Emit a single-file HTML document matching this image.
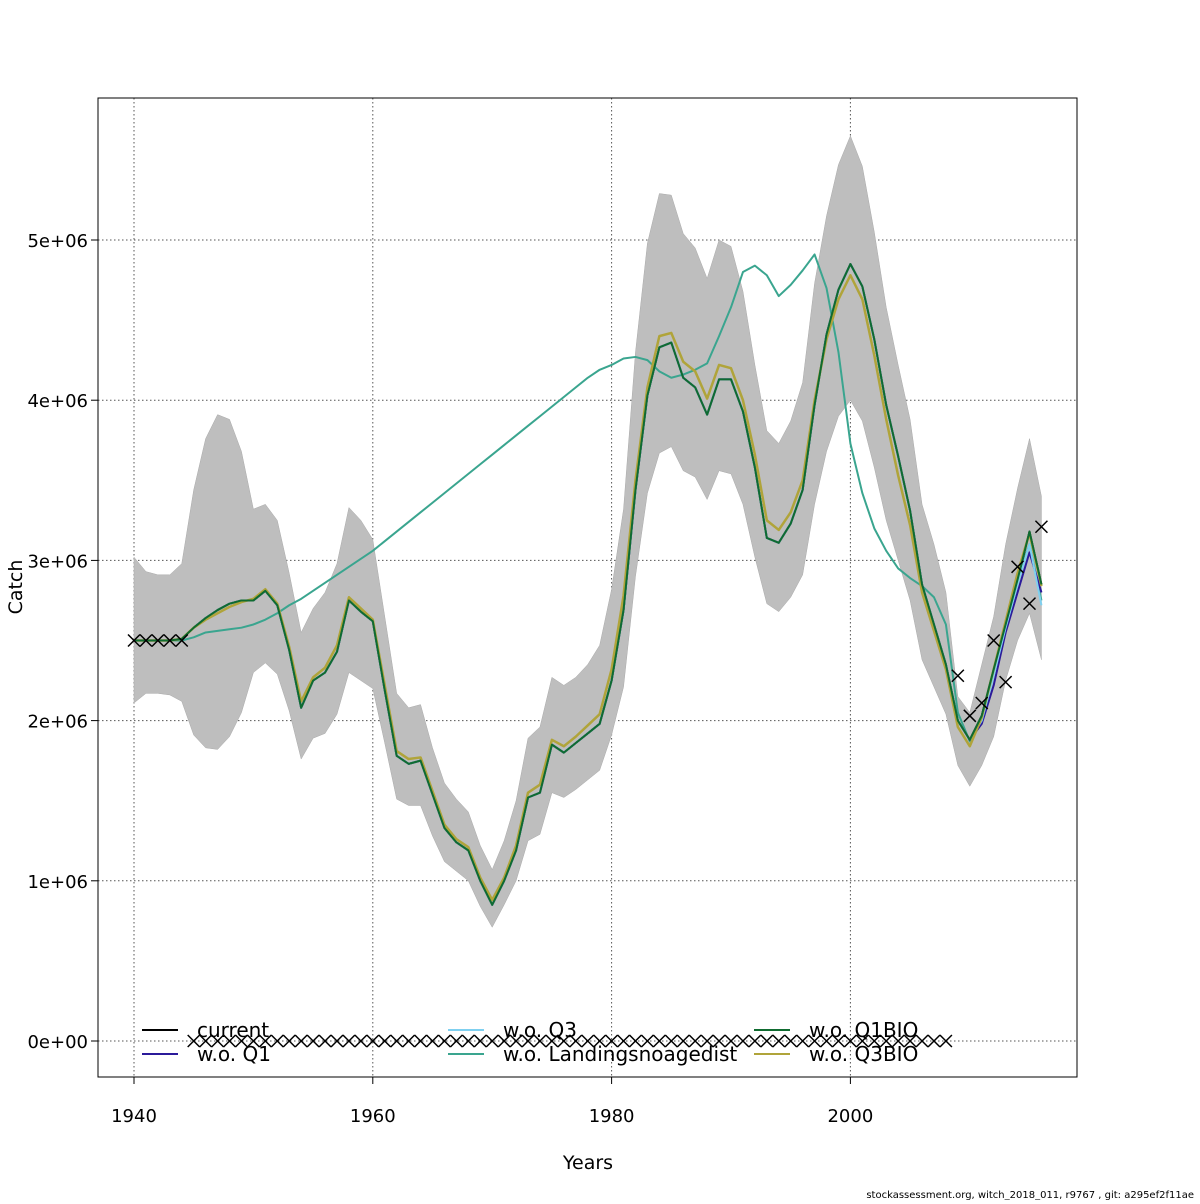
<!DOCTYPE html>
<html><head><meta charset="utf-8"><style>
body{margin:0;background:#fff;font-family:"DejaVu Sans","Liberation Sans",sans-serif}
svg text{font-family:"DejaVu Sans","Liberation Sans",sans-serif}
</style></head><body>
<svg id="c" width="1200" height="1200" xmlns="http://www.w3.org/2000/svg"></svg>
<script>
const years=[];for(let y=1940;y<=2016;y++)years.push(y);
const current=[2.5,2.5,2.5,2.5,2.51,2.58,2.64,2.69,2.73,2.75,2.75,2.81,2.72,2.44,2.08,2.25,2.30,2.43,2.75,2.68,2.62,2.19,1.78,1.73,1.75,1.54,1.33,1.24,1.19,1.0,0.85,1.0,1.19,1.52,1.55,1.85,1.80,1.86,1.92,1.98,2.25,2.69,3.44,4.03,4.33,4.36,4.14,4.08,3.91,4.13,4.13,3.93,3.58,3.14,3.11,3.23,3.44,3.97,4.41,4.69,4.85,4.71,4.38,3.97,3.65,3.31,2.85,2.6,2.35,2.0,1.88,2.03,2.32,2.6,2.88,3.18,2.85];
const q3bio=[2.5,2.5,2.5,2.5,2.51,2.58,2.63,2.67,2.71,2.74,2.76,2.82,2.73,2.46,2.12,2.27,2.33,2.47,2.77,2.70,2.63,2.22,1.81,1.76,1.77,1.56,1.35,1.26,1.21,1.02,0.88,1.02,1.22,1.55,1.60,1.88,1.84,1.90,1.97,2.04,2.32,2.78,3.50,4.08,4.40,4.42,4.24,4.18,4.01,4.22,4.20,4.00,3.66,3.25,3.19,3.30,3.50,4.00,4.38,4.63,4.78,4.63,4.28,3.88,3.53,3.22,2.80,2.56,2.32,1.96,1.84,2.02,2.32,2.62,2.92,3.17,2.84];
const q1=current.slice(0,71).concat([1.98,2.22,2.55,2.80,3.05,2.80]);
const q3=current.slice(0,71).concat([2.0,2.28,2.58,2.85,3.10,2.72]);
const noage=[2.5,2.5,2.5,2.5,2.5,2.52,2.55,2.56,2.57,2.58,2.60,2.63,2.67,2.72,2.76,2.81,2.86,2.91,2.96,3.01,3.06,3.12,3.18,3.24,3.30,3.36,3.42,3.48,3.54,3.60,3.66,3.72,3.78,3.84,3.90,3.96,4.02,4.08,4.14,4.19,4.22,4.26,4.27,4.25,4.18,4.14,4.16,4.19,4.23,4.40,4.58,4.80,4.84,4.78,4.65,4.72,4.81,4.91,4.70,4.30,3.73,3.42,3.20,3.06,2.95,2.89,2.84,2.77,2.60,2.05,1.87,2.02,2.30,2.6,2.88,3.1,2.75];
const upper=[3.02,2.93,2.91,2.91,2.98,3.44,3.76,3.91,3.88,3.68,3.32,3.35,3.25,2.92,2.55,2.70,2.80,2.98,3.33,3.25,3.13,2.65,2.17,2.08,2.10,1.83,1.61,1.51,1.43,1.22,1.07,1.25,1.50,1.89,1.96,2.27,2.22,2.27,2.35,2.47,2.82,3.32,4.30,4.98,5.29,5.28,5.04,4.95,4.76,5.00,4.96,4.68,4.22,3.81,3.73,3.87,4.11,4.73,5.15,5.47,5.65,5.46,5.05,4.58,4.22,3.88,3.35,3.10,2.80,2.15,2.05,2.35,2.65,3.10,3.45,3.76,3.40];
const lower=[2.11,2.17,2.17,2.16,2.12,1.91,1.83,1.82,1.90,2.05,2.30,2.36,2.29,2.06,1.76,1.89,1.92,2.04,2.30,2.25,2.20,1.86,1.51,1.47,1.47,1.28,1.12,1.06,1.00,0.84,0.71,0.85,1.00,1.25,1.29,1.55,1.52,1.57,1.63,1.69,1.91,2.21,2.90,3.42,3.67,3.71,3.56,3.52,3.38,3.56,3.54,3.35,3.02,2.73,2.68,2.77,2.91,3.35,3.68,3.90,4.00,3.87,3.58,3.25,3.00,2.75,2.38,2.21,2.04,1.72,1.59,1.72,1.90,2.25,2.50,2.67,2.38];
const obs=[2.5,2.5,2.5,2.5,2.5].concat(new Array(64).fill(0)).concat([2.28,2.03,2.11,2.50,2.24,2.96,2.73,3.21]);
const xTicks=[1940,1960,1980,2000];
const yTicks=[0,1,2,3,4,5];
const yTickLabels=["0e+00","1e+06","2e+06","3e+06","4e+06","5e+06"];

const X=v=>134+(v-1940)*11.94;
const Y=v=>1041-v*160.2;
const svg=document.getElementById('c');const NS='http://www.w3.org/2000/svg';
function mk(t,a,p){const e=document.createElementNS(NS,t);for(const k in a)e.setAttribute(k,a[k]);(p||svg).appendChild(e);return e;}
xTicks.forEach(t=>{const l=mk('line',{x1:X(t),x2:X(t),y1:98,y2:1077,stroke:'#555','stroke-dasharray':'1.5,2.5','stroke-width':1});

});
yTicks.forEach(t=>{const l=mk('line',{x1:98,x2:1077,y1:Y(t),y2:Y(t),stroke:'#555','stroke-dasharray':'1.5,2.5','stroke-width':1});

});
let d='M'+years.map((y,i)=>X(y)+','+Y(upper[i])).join('L')+'L'+years.slice().reverse().map((y,j)=>X(y)+','+Y(lower[years.length-1-j])).join('L')+'Z';
const band=mk('path',{d:d,fill:'#bebebe',stroke:'#aaa','stroke-width':0.5});


function line(arr,col,w,name){const p=mk('path',{d:'M'+years.map((y,i)=>X(y)+','+Y(arr[i])).join('L'),fill:'none',stroke:col,'stroke-width':w,'stroke-linejoin':'round'});

}
line(noage,'#3aa58f',2,'line-wo-landingsnoagedist');
line(current,'#000',2,'line-current');
line(q1,'#2b1a9a',2,'line-wo-q1');
line(q3,'#7fd0f0',2,'line-wo-q3');
line(q3bio,'#b0a43a',2.5,'line-wo-q3bio');
line(current,'#0f6b30',2,'line-wo-q1bio');
years.forEach((y,i)=>{const cx=X(y),cy=Y(obs[i]);const g=mk('path',{d:`M${cx-6},${cy-6}L${cx+6},${cy+6}M${cx-6},${cy+6}L${cx+6},${cy-6}`,stroke:'#000','stroke-width':1.5});

});
const fr=mk('rect',{x:98,y:98,width:979,height:979,fill:'none',stroke:'#000','stroke-width':1});


xTicks.forEach(t=>{const tk=mk('line',{x1:X(t),x2:X(t),y1:1077,y2:1084,stroke:'#000'});


const tx=mk('text',{x:X(t),y:1122,'text-anchor':'middle','font-size':18});tx.textContent=t;

});
yTicks.forEach((t,i)=>{const tk=mk('line',{x1:91,x2:98,y1:Y(t),y2:Y(t),stroke:'#000'});


const tx=mk('text',{x:88,y:Y(t)+7,'text-anchor':'end','font-size':18});tx.textContent=yTickLabels[i];

});
const leg=[['current','#000',142,1030],['w.o. Q1','#2b1a9a',142,1054],['w.o. Q3','#7fd0f0',448,1030],['w.o. Landingsnoagedist','#3aa58f',448,1054],['w.o. Q1BIO','#0f6b30',754,1030],['w.o. Q3BIO','#b0a43a',754,1054]];
leg.forEach(l=>{const ln=mk('line',{x1:l[2],x2:l[2]+36,y1:l[3],y2:l[3],stroke:l[1],'stroke-width':2});


const tx=mk('text',{x:l[2]+55,y:l[3]+7,'font-size':20});tx.textContent=l[0];

});
const xt=mk('text',{x:588,y:1169,'text-anchor':'middle','font-size':19});xt.textContent='Years';


const yt=mk('text',{x:22,y:587,'text-anchor':'middle','font-size':19,transform:'rotate(-90 22 587)'});yt.textContent='Catch';


const ft=mk('text',{x:1194,y:1198,'text-anchor':'end','font-size':10});ft.textContent='stockassessment.org, witch_2018_011, r9767 , git: a295ef2f11ae';


</script>
</body></html>
